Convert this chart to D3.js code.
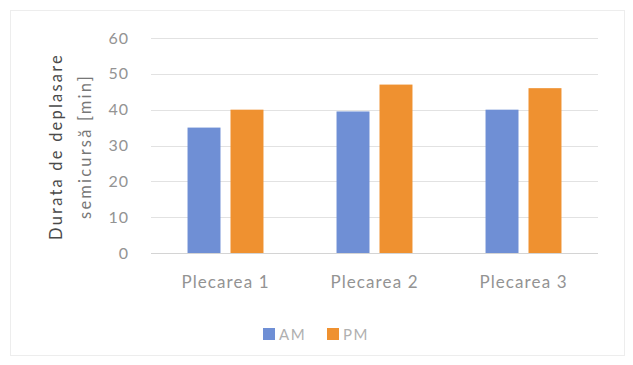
<!DOCTYPE html>
<html>
<head>
<meta charset="utf-8">
<script src="https://cdn.jsdelivr.net/npm/d3@7"></script>
<style>
  html, body { margin: 0; padding: 0; background: #fff; }
  svg { display: block; }
  text { font-family: Lato, "Open Sans", sans-serif; }
</style>
</head>
<body>
<svg id="chart" width="633" height="365"></svg>
<script>
// Travel time per departure, morning vs afternoon
const categories = ["Plecarea 1", "Plecarea 2", "Plecarea 3"];
const seriesNames = ["AM", "PM"];
const amValues = [35, 39.5, 40];
const pmValues = [40, 47, 46];
const yTicks = [0, 10, 20, 30, 40, 50, 60];
const yTitleLines = ["Durata de deplasare", "semicursă [min]"];

const colors = { AM: "#6f8fd5", PM: "#ef9130" };
const textColor = "#939393";

const svg = d3.select("#chart");

// outer frame of the chart
svg.append("rect")
  .attr("x", 10.5).attr("y", 10.5)
  .attr("width", 614).attr("height", 345)
  .attr("fill", "none").attr("stroke", "#ededed");

const plot = { left: 151, right: 598, top: 38, bottom: 253 };

const x = d3.scaleBand()
  .domain(categories)
  .range([plot.left, plot.right]);

const xInner = d3.scaleBand()
  .domain(seriesNames)
  .range([0, x.bandwidth()])
  .paddingInner(0.233)
  .paddingOuter(0.85);

const y = d3.scaleLinear()
  .domain([0, 60])
  .range([plot.bottom, plot.top]);

// gridlines
svg.append("g")
  .selectAll("line")
  .data(yTicks)
  .join("line")
  .attr("x1", plot.left).attr("x2", plot.right)
  .attr("y1", d => Math.round(y(d)) + 0.5)
  .attr("y2", d => Math.round(y(d)) + 0.5)
  .attr("stroke", d => d === 0 ? "#d4d4d4" : "#e2e2e2")
  .attr("stroke-width", 1);

// y axis labels
const yAxis = d3.axisLeft(y).tickValues(yTicks).tickSize(0).tickPadding(0);
const yg = svg.append("g")
  .attr("transform", `translate(129,0)`)
  .call(yAxis);
yg.select(".domain").remove();
yg.selectAll("text")
  .attr("fill", textColor)
  .style("font-size", "16px")
  .style("letter-spacing", "1px")
  .style("font-family", "Lato, 'Open Sans', sans-serif");

// x axis labels
const xAxis = d3.axisBottom(x).tickSize(0).tickPadding(0);
const xg = svg.append("g")
  .attr("transform", `translate(0,${plot.bottom + 23})`)
  .call(xAxis);
xg.select(".domain").remove();
xg.selectAll("text")
  .attr("fill", textColor)
  .style("font-size", "17px")
  .style("letter-spacing", "1.1px")
  .style("font-family", "Lato, 'Open Sans', sans-serif");

// bars
const rows = categories.map((c, i) => ({ cat: c, AM: amValues[i], PM: pmValues[i] }));
svg.append("g")
  .selectAll("g")
  .data(rows)
  .join("g")
  .attr("transform", d => `translate(${x(d.cat)},0)`)
  .selectAll("rect")
  .data(d => seriesNames.map(s => ({ s, v: d[s] })))
  .join("rect")
  .attr("x", d => xInner(d.s))
  .attr("width", xInner.bandwidth())
  .attr("y", d => y(d.v))
  .attr("height", d => y(0) - y(d.v))
  .attr("fill", d => colors[d.s]);

// y axis title
const title = svg.append("text")
  .attr("transform", `translate(62,${(plot.top + plot.bottom) / 2 + 1}) rotate(-90)`)
  .attr("text-anchor", "middle")
  .style("font-size", "16.5px");
title.selectAll("tspan")
  .data(yTitleLines)
  .join("tspan")
  .attr("x", 0)
  .attr("dy", (d, i) => i === 0 ? 0 : 29)
  .attr("fill", (d, i) => i === 0 ? "#4a4a4a" : "#777")
  .style("letter-spacing", (d, i) => i === 0 ? "2.2px" : "2.2px")
  .text(d => d);

// legend
const legend = svg.append("g").attr("transform", "translate(263,328)");
const legendItems = legend.selectAll("g")
  .data(seriesNames)
  .join("g")
  .attr("transform", (d, i) => `translate(${i * 64},0)`);
legendItems.append("rect")
  .attr("width", 12).attr("height", 12)
  .attr("fill", d => colors[d]);
legendItems.append("text")
  .attr("x", 16).attr("y", 11.5)
  .attr("fill", "#b0b0b0")
  .style("font-size", "15px")
  .style("letter-spacing", "1.5px")
  .text(d => d);
</script>
</body>
</html>
